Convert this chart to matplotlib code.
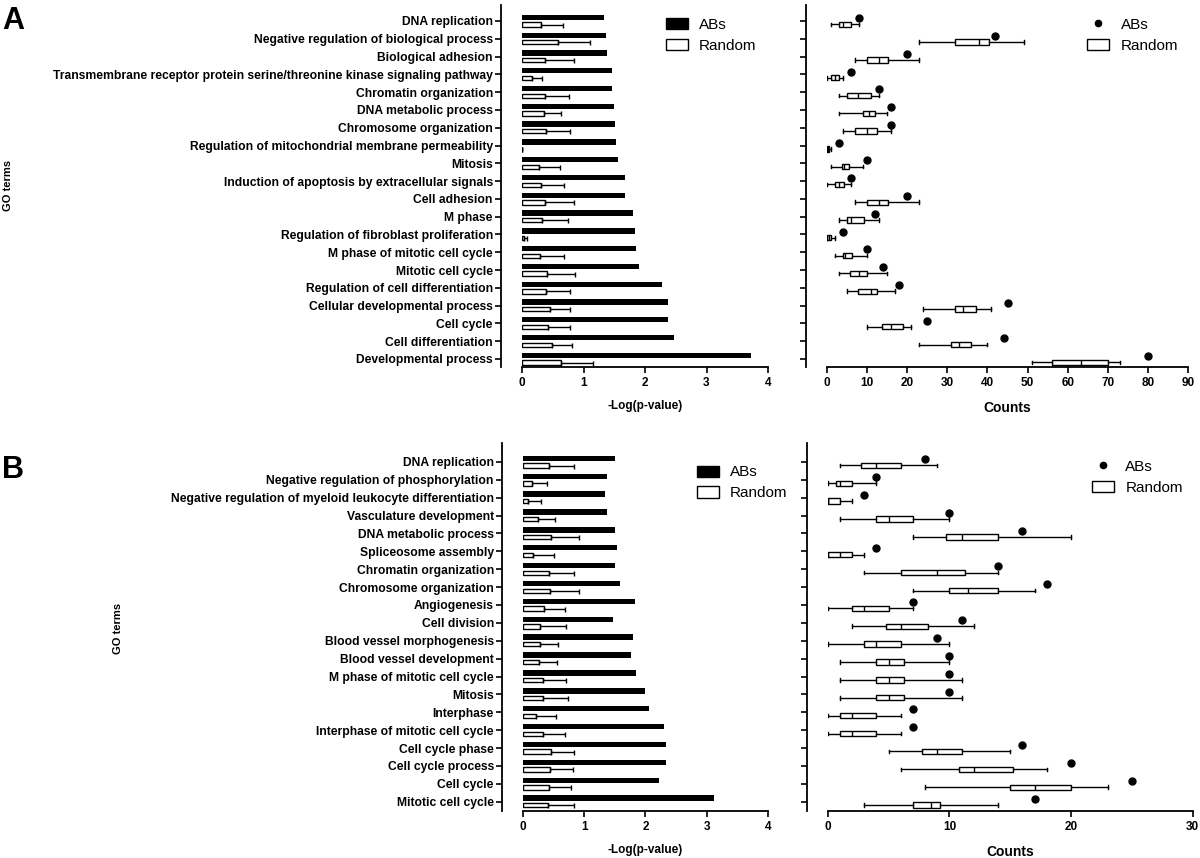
import numpy as np
import matplotlib.pyplot as plt
from matplotlib.patches import Patch
from matplotlib.lines import Line2D

plt.rcParams['font.family'] = ['Liberation Sans', 'DejaVu Sans']

# ---- panel A data ----
terms_a = ["DNA replication", "Negative regulation of biological process", "Biological adhesion",
           "Transmembrane receptor protein serine/threonine kinase signaling pathway",
           "Chromatin organization", "DNA metabolic process", "Chromosome organization",
           "Regulation of mitochondrial membrane permeability", "Mitosis",
           "Induction of apoptosis by extracellular signals", "Cell adhesion", "M phase",
           "Regulation of fibroblast proliferation", "M phase of mitotic cell cycle",
           "Mitotic cell cycle", "Regulation of cell differentiation",
           "Cellular developmental process", "Cell cycle", "Cell differentiation",
           "Developmental process"]
abs_logp_a = [1.34, 1.36, 1.38, 1.46, 1.47, 1.49, 1.51, 1.53, 1.56, 1.67,
              1.67, 1.80, 1.84, 1.85, 1.91, 2.28, 2.37, 2.37, 2.47, 3.73]
rand_logp_a = [0.31, 0.58, 0.37, 0.16, 0.38, 0.36, 0.39, 0.005, 0.28, 0.31,
               0.37, 0.33, 0.03, 0.30, 0.40, 0.39, 0.46, 0.42, 0.48, 0.64]
rand_sd_a = [0.36, 0.52, 0.47, 0.17, 0.39, 0.27, 0.39, 0.0, 0.34, 0.37,
             0.47, 0.42, 0.05, 0.39, 0.46, 0.39, 0.32, 0.36, 0.33, 0.51]
box_lo_a = [1, 23, 7, 0, 3, 3, 4, 0, 1, 0, 7, 3, 0, 2, 3, 5, 24, 10, 23, 51]
box_q1_a = [3, 32, 10, 1, 5, 9, 7, 0, 3.7, 2, 10, 5, 0, 4, 5.7, 7.6, 32, 13.7, 31, 56]
box_med_a = [4, 38, 13, 2, 7.6, 10.5, 10, 0.3, 4.3, 3, 13, 6, 0.5, 4.6, 8, 11, 34, 16, 33, 63.3]
box_q3_a = [6, 40.3, 15.3, 3, 11, 12, 12.4, 0.5, 5.6, 4.2, 15.3, 9.3, 1, 6.3, 10, 12.4, 37.2, 19, 36, 70]
box_hi_a = [8, 49, 23, 4, 13, 15, 16, 1, 9, 6, 23, 13, 2, 10, 15, 17, 41, 21, 40, 73]
abs_counts_a = [8, 42, 20, 6, 13, 16, 16, 3, 10, 6, 20, 12, 4, 10, 14, 18, 45, 25, 44, 80]

# ---- panel B data ----
terms_b = ["DNA replication", "Negative regulation of phosphorylation",
           "Negative regulation of myeloid leukocyte differentiation", "Vasculature development",
           "DNA metabolic process", "Spliceosome assembly", "Chromatin organization",
           "Chromosome organization", "Angiogenesis", "Cell division",
           "Blood vessel morphogenesis", "Blood vessel development",
           "M phase of mitotic cell cycle", "Mitosis", "Interphase",
           "Interphase of mitotic cell cycle", "Cell cycle phase", "Cell cycle process",
           "Cell cycle", "Mitotic cell cycle"]
abs_logp_b = [1.51, 1.38, 1.34, 1.37, 1.50, 1.53, 1.51, 1.58, 1.83, 1.47,
              1.79, 1.77, 1.84, 1.99, 2.05, 2.31, 2.34, 2.33, 2.22, 3.12]
rand_logp_b = [0.42, 0.14, 0.09, 0.25, 0.45, 0.17, 0.42, 0.44, 0.34, 0.27,
               0.27, 0.26, 0.32, 0.33, 0.22, 0.32, 0.45, 0.44, 0.43, 0.41]
rand_sd_b = [0.42, 0.26, 0.20, 0.28, 0.47, 0.33, 0.42, 0.47, 0.34, 0.44,
             0.30, 0.29, 0.39, 0.40, 0.32, 0.36, 0.39, 0.38, 0.35, 0.42]
box_lo_b = [1, 0, 0, 1, 7, 0, 3, 7, 0, 2, 0, 1, 1, 1, 0, 0, 5, 6, 8, 3]
box_q1_b = [2.75, 0.7, 0, 4, 9.75, 0, 6, 10, 2, 4.75, 3, 4, 4, 4, 1, 1, 7.75, 10.75, 15, 7]
box_med_b = [4, 1, 0, 5, 11, 1, 9, 11.5, 3, 6, 4, 5, 5, 5, 2, 2, 9, 12, 17, 8.5]
box_q3_b = [6, 2, 1, 7, 14, 2, 11.25, 14, 5, 8.25, 6, 6.25, 6.25, 6.25, 4, 4, 11, 15.25, 20, 9.25]
box_hi_b = [9, 4, 2, 10, 20, 3, 14, 17, 7, 12, 10, 10, 11, 11, 6, 6, 15, 18, 23, 14]
abs_counts_b = [8, 4, 3, 10, 16, 4, 14, 18, 7, 11, 9, 10, 10, 10, 7, 7, 16, 20, 25, 17]

LBL = dict(fontsize=8, fontweight='bold')


def style_axis(ax, xmax, ylim):
    for s in ['top', 'right']:
        ax.spines[s].set_visible(False)
    ax.spines['left'].set_position(('outward', 15))
    ax.spines['bottom'].set_bounds(0, xmax)
    for s in ['left', 'bottom']:
        ax.spines[s].set_linewidth(1.3)
    ax.set_xlim(0, xmax)
    ax.set_ylim(*ylim)
    ax.tick_params(axis='both', width=1.2, length=4)
    ax.tick_params(axis='x', labelsize=8.5, pad=3)


def bold_ticks(ax):
    for t in ax.get_xticklabels() + ax.get_yticklabels():
        t.set_fontweight('bold')


def draw_bars(ax, terms, abs_vals, rand_vals, rand_sd, ylim, leg_pos):
    pos = np.arange(len(terms))
    ax.barh(pos - 0.2, abs_vals, height=0.3, color='black')
    ax.barh(pos + 0.2, rand_vals, height=0.24, color='white', edgecolor='black', linewidth=1)
    ax.errorbar(rand_vals, pos + 0.2, xerr=[np.zeros(len(pos)), rand_sd], fmt='none',
                ecolor='black', elinewidth=1, capsize=1.8, capthick=1)
    style_axis(ax, 4, ylim)
    ax.set_xticks([0, 1, 2, 3, 4])
    ax.set_yticks(pos)
    ax.set_yticklabels(terms)
    ax.tick_params(axis='y', pad=2, labelsize=8.7)
    bold_ticks(ax)
    ax.set_xlabel('-Log(p-value)', fontsize=8.5, fontweight='bold', labelpad=8)
    handles = [Patch(facecolor='black', edgecolor='black'),
               Patch(facecolor='white', edgecolor='black', linewidth=1)]
    ax.legend(handles, ['ABs', 'Random'], loc='upper left', bbox_to_anchor=leg_pos,
              frameon=False, fontsize=11, handlelength=1.45, handleheight=0.75,
              handletextpad=0.7, labelspacing=0.45, borderpad=0, borderaxespad=0)


def draw_boxes(ax, lo, q1, med, q3, hi, counts, xmax, ylim, leg_pos):
    pos = np.arange(len(lo))
    stats = [dict(whislo=a, q1=b, med=c, q3=d, whishi=e)
             for a, b, c, d, e in zip(lo, q1, med, q3, hi)]
    ax.bxp(stats, positions=pos + 0.19, widths=0.3, orientation='horizontal',
           showfliers=False, patch_artist=True, manage_ticks=False, capwidths=0.2,
           boxprops=dict(facecolor='white', edgecolor='black', linewidth=1),
           medianprops=dict(color='black', linewidth=1),
           whiskerprops=dict(color='black', linewidth=1),
           capprops=dict(color='black', linewidth=1))
    ax.plot(counts, pos - 0.16, 'o', color='black', markersize=5)
    style_axis(ax, xmax, ylim)
    ax.set_yticks(pos)
    ax.set_yticklabels([])
    ax.set_xticks(np.arange(0, xmax + 1, 10))
    bold_ticks(ax)
    ax.set_xlabel('Counts', fontsize=10, fontweight='bold', labelpad=9)
    handles = [Line2D([], [], marker='o', color='black', linestyle='none', markersize=4.5),
               Patch(facecolor='white', edgecolor='black', linewidth=1)]
    ax.legend(handles, ['ABs', 'Random'], loc='upper left', bbox_to_anchor=leg_pos,
              frameon=False, fontsize=11, handlelength=1.45, handleheight=0.75,
              handletextpad=0.75, labelspacing=0.45, borderpad=0, borderaxespad=0)


fig = plt.figure(figsize=(12, 8.58), dpi=100)

ylim_a = (19.45, -0.9)
ylim_b = (19.52, -1.06)

ax1 = fig.add_axes([0.435, 0.5723, 0.205, 0.4219])
draw_bars(ax1, terms_a, abs_logp_a, rand_logp_a, rand_sd_a, ylim_a, (0.585, 0.965))
ax2 = fig.add_axes([0.6892, 0.5723, 0.3008, 0.4219])
draw_boxes(ax2, box_lo_a, box_q1_a, box_med_a, box_q3_a, box_hi_a, abs_counts_a, 90,
           ylim_a, (0.72, 0.965))

ax3 = fig.add_axes([0.4358, 0.0548, 0.2042, 0.4289])
draw_bars(ax3, terms_b, abs_logp_b, rand_logp_b, rand_sd_b, ylim_b, (0.71, 0.939))
ax4 = fig.add_axes([0.6898, 0.0548, 0.3042, 0.4289])
draw_boxes(ax4, box_lo_b, box_q1_b, box_med_b, box_q3_b, box_hi_b, abs_counts_b, 30,
           ylim_b, (0.723, 0.954))

fig.text(8 / 1200, 1 - 185 / 858, 'GO terms', rotation=90, ha='center', va='center', **LBL)
fig.text(118 / 1200, 1 - 628 / 858, 'GO terms', rotation=90, ha='center', va='center', **LBL)
fig.text(13 / 1200, 1 - 21 / 858, 'A', fontsize=22, fontweight='bold', ha='center', va='center')
fig.text(13 / 1200, 1 - 470 / 858, 'B', fontsize=22, fontweight='bold', ha='center', va='center')

fig.savefig('out.png', dpi=100)
